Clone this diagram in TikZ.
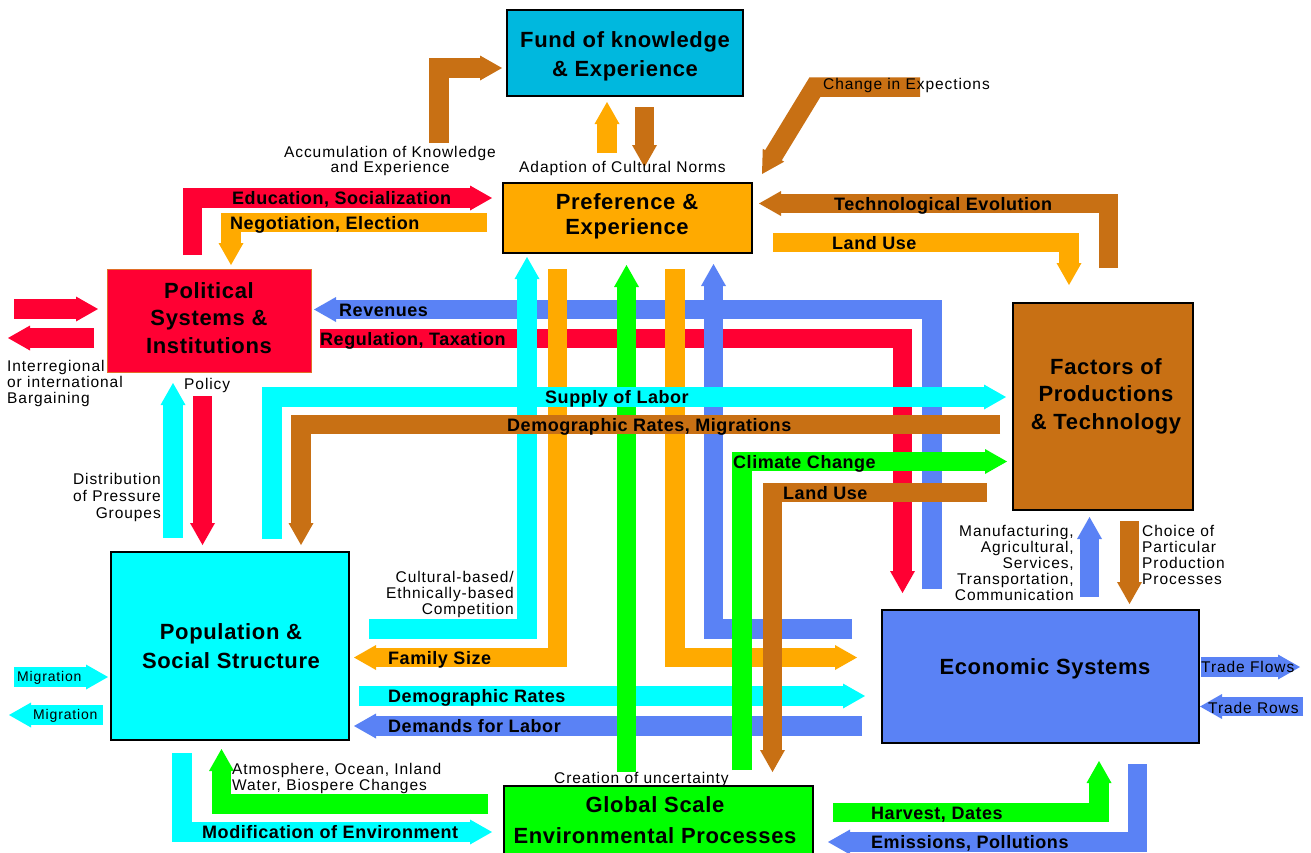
\documentclass[tikz,border=0pt]{standalone}
\usepackage{fontspec}
\setmainfont{Liberation Sans}
\newfontfamily\ttlf[LetterSpace=3]{Liberation Sans}
\newfontfamily\smlf[LetterSpace=6]{Liberation Sans}
\usetikzlibrary{calc}
\definecolor{cred}{RGB}{255,0,51}
\definecolor{corange}{RGB}{255,170,0}
\definecolor{cbrown}{RGB}{200,112,20}
\definecolor{cblue}{RGB}{90,130,245}
\definecolor{ccyan}{RGB}{0,255,255}
\definecolor{cgreen}{RGB}{0,255,0}
\definecolor{cteal}{RGB}{0,184,222}
\definecolor{cpolborder}{RGB}{225,110,40}
\tikzset{
  bar/.style={line width=19.5pt, line cap=butt, line join=miter},
  box/.style={draw=black, line width=1.5pt, inner sep=0pt},
  title/.style={align=center, inner sep=0pt},
  lbl/.style={font=\ttlf\bfseries\fontsize{18}{20}\selectfont, anchor=base west, inner sep=0pt},
  sml/.style={font=\smlf\fontsize{15.5}{16}\selectfont, inner sep=0pt},
}
% #1 colour, #2 path up to the last bend point, #3 last bend point, #4 tip
\newcommand{\blockarr}[4]{%
  \coordinate (bp) at (#3);
  \coordinate (bt) at (#4);
  \coordinate (bb) at ($(bt)!22pt!(bp)$);
  \coordinate (bs) at ($(bt)!21pt!(bp)$);
  \draw[bar,#1] #2 -- (bs);
  \fill[#1] ($(bb)!12.5pt!90:(bt)$) -- (bt) -- ($(bb)!12.5pt!-90:(bt)$) -- cycle;
}
\begin{document}
\begin{tikzpicture}[x=1pt,y=-1pt]
\useasboundingbox (0,0) rectangle (1311,852);
\clip (0,0) rectangle (1311,852);
\fill[white] (0,0) rectangle (1311,852);

% ---------- boxes ----------
\node[box, fill=cteal, minimum width=236pt, minimum height=86pt] (fund) at (625,53) {};
\node[box, fill=corange, minimum width=249pt, minimum height=70pt] (pref) at (627.5,218) {};
\node[box, draw=cpolborder, line width=1pt, fill=cred, minimum width=204pt, minimum height=103pt] (pol) at (209,320.5) {};
\node[box, fill=cbrown, minimum width=180pt, minimum height=207pt] (fac) at (1103,406.5) {};
\node[box, fill=ccyan, minimum width=238pt, minimum height=188pt] (pop) at (230,646) {};
\node[box, fill=cblue, minimum width=317pt, minimum height=133pt] (eco) at (1040.5,676.5) {};
\node[box, fill=cgreen, minimum width=309pt, minimum height=90pt] (glob) at (658.5,831) {};

% ---------- top arrows ----------
\blockarr{cbrown}{(439,143) -- (439,68)}{439,68}{502,68}
\blockarr{corange}{(607,153)}{607,153}{607,102}
\blockarr{cbrown}{(644.5,107)}{644.5,107}{644.5,167}
\blockarr{cbrown}{(920,87) -- (815,87)}{815,87}{762,174}
\blockarr{cbrown}{(1108.5,268) -- (1108.5,203.5)}{1108.5,203.5}{759,203.5}
\blockarr{corange}{(773,242.5) -- (1069,242.5)}{1069,242.5}{1069,285}
\blockarr{cred}{(192.5,255) -- (192.5,198)}{192.5,198}{492,198}
\blockarr{corange}{(487,222.5) -- (231,222.5)}{231,222.5}{231,265}

% ---------- interregional ----------
\blockarr{cred}{(14,309)}{14,309}{98,309}
\blockarr{cred}{(94,338)}{94,338}{8,338}

% ---------- revenues / regulation ----------
\blockarr{cblue}{(932,589) -- (932,309.5)}{932,309.5}{314,309.5}
\blockarr{cred}{(320,338.5) -- (902.5,338.5)}{902.5,338.5}{902.5,593}

% ---------- policy / pressure groups ----------
\blockarr{cred}{(202.5,396)}{202.5,396}{202.5,545}
\blockarr{ccyan}{(173,538)}{173,538}{173,383}

% ---------- demographic rates / demands for labor ----------
\blockarr{ccyan}{(359,696)}{359,696}{865,696}
\blockarr{cblue}{(862,726)}{862,726}{354,726}

% ---------- central verticals ----------
\blockarr{ccyan}{(369,629) -- (527,629)}{527,629}{527,257}
\blockarr{corange}{(557.5,269) -- (557.5,657.5)}{557.5,657.5}{354,657.5}
\blockarr{cgreen}{(626.5,772)}{626.5,772}{626.5,265}
\blockarr{corange}{(675,269) -- (675,657.5)}{675,657.5}{857,657.5}
\blockarr{cblue}{(852,629) -- (713.5,629)}{713.5,629}{713.5,264}

% ---------- supply of labor / demographic migrations (over the verticals) ----------
\blockarr{ccyan}{(272,539) -- (272,397)}{272,397}{1006,397}
\blockarr{cbrown}{(1000,424.5) -- (301,424.5)}{301,424.5}{301,545}

% ---------- climate change / land use ----------
\blockarr{cgreen}{(742,770) -- (742,461.5)}{742,461.5}{1007,461.5}
\blockarr{cbrown}{(987,492.5) -- (772.5,492.5)}{772.5,492.5}{772.5,772}

% ---------- factors <-> economic ----------
\blockarr{cblue}{(1089.5,597)}{1089.5,597}{1089.5,517}
\blockarr{cbrown}{(1129.5,521)}{1129.5,521}{1129.5,604}

% ---------- trade ----------
\blockarr{cblue}{(1201,667)}{1201,667}{1300,667}
\blockarr{cblue}{(1303,706.5)}{1303,706.5}{1200,706.5}

% ---------- bottom ----------
\blockarr{cgreen}{(833,812.5) -- (1099,812.5)}{1099,812.5}{1099,761}
\blockarr{cblue}{(1137.5,764) -- (1137.5,842)}{1137.5,842}{828,842}
\blockarr{ccyan}{(182,753) -- (182,832)}{182,832}{492,832}
\blockarr{cgreen}{(488,804) -- (221.5,804)}{221.5,804}{221.5,749}

% ---------- migration ----------
\blockarr{ccyan}{(14,677)}{14,677}{108,677}
\blockarr{ccyan}{(103,715)}{103,715}{9,715}

% ---------- box titles ----------
\node[title, font=\ttlf\bfseries\fontsize{22}{29}\selectfont] (fundt) at (625,56) {Fund of knowledge\\\& Experience};
\node[title, font=\ttlf\bfseries\fontsize{22}{25}\selectfont] (preft) at (627,216) {Preference \&\\Experience};
\node[title, font=\ttlf\bfseries\fontsize{22}{27.5}\selectfont] (polt) at (209,318) {Political\\Systems \&\\Institutions};
\node[title, font=\ttlf\bfseries\fontsize{22}{27.5}\selectfont] (fact) at (1106,396) {Factors of\\Productions\\\& Technology};
\node[title, font=\ttlf\bfseries\fontsize{22}{29}\selectfont] (popt) at (231,646) {Population \&\\Social Structure};
\node[title, font=\ttlf\bfseries\fontsize{22}{29}\selectfont] (ecot) at (1045,668.5) {Economic Systems};
\node[title, font=\ttlf\bfseries\fontsize{22}{31}\selectfont] (globt) at (655,820) {Global Scale\\Environmental Processes};

% ---------- bold arrow labels ----------
\node[lbl] (l1) at (232,204.5) {Education, Socialization};
\node[lbl] (l2) at (230,229) {Negotiation, Election};
\node[lbl] (l3) at (834,210) {Technological Evolution};
\node[lbl] (l4) at (832,249) {Land Use};
\node[lbl] (l5) at (339,316) {Revenues};
\node[lbl] (l6) at (320,345) {Regulation, Taxation};
\node[lbl] (l7) at (545,403.5) {Supply of Labor};
\node[lbl] (l8) at (507,431) {Demographic Rates, Migrations};
\node[lbl] (l9) at (733,468) {Climate Change};
\node[lbl] (l10) at (783,499) {Land Use};
\node[lbl] (l11) at (388,664) {Family Size};
\node[lbl] (l12) at (388,702.5) {Demographic Rates};
\node[lbl] (l13) at (388,732.5) {Demands for Labor};
\node[lbl] (l14) at (202,838.5) {Modification of Environment};
\node[lbl] (l15) at (871,819) {Harvest, Dates};
\node[lbl] (l16) at (871,848.5) {Emissions, Pollutions};

% ---------- small labels ----------
\node[sml, align=center, font=\smlf\fontsize{15.5}{15}\selectfont] (s1) at (390,161) {Accumulation of Knowledge\\and Experience};
\node[sml] (s2) at (622.5,168.5) {Adaption of Cultural Norms};
\node[sml, anchor=west] (s3) at (823,85.5) {Change in Expections};
\node[sml, align=left, anchor=west] (s4) at (7,383) {Interregional\\or international\\Bargaining};
\node[sml, anchor=west] (s5) at (184,385) {Policy};
\node[sml, align=right, anchor=east, font=\smlf\fontsize{15.5}{17}\selectfont] (s6) at (161,497) {Distribution\\of Pressure\\Groupes};
\node[sml, align=right, anchor=east] (s7) at (514,594.5) {Cultural-based/\\Ethnically-based\\Competition};
\node[sml, align=right, anchor=east] (s8) at (1074,563) {Manufacturing,\\Agricultural,\\Services,\\Transportation,\\Communication};
\node[sml, align=left, anchor=west] (s9) at (1142,554.5) {Choice of\\Particular\\Production\\Processes};
\node[sml, anchor=west] (s10) at (554,779) {Creation of uncertainty};
\node[sml, align=left, anchor=west] (s11) at (232,778.5) {Atmosphere, Ocean, Inland\\Water, Biospere Changes};
\node[sml, anchor=west] (s12) at (1201,667) {Trade Flows};
\node[sml, anchor=west] (s13) at (1208,708) {Trade Rows};
\node[sml, anchor=west, font=\smlf\fontsize{14}{15}\selectfont] (s14) at (17,678) {Migration};
\node[sml, anchor=west, font=\smlf\fontsize{14}{15}\selectfont] (s15) at (33,716) {Migration};
\end{tikzpicture}
\end{document}
